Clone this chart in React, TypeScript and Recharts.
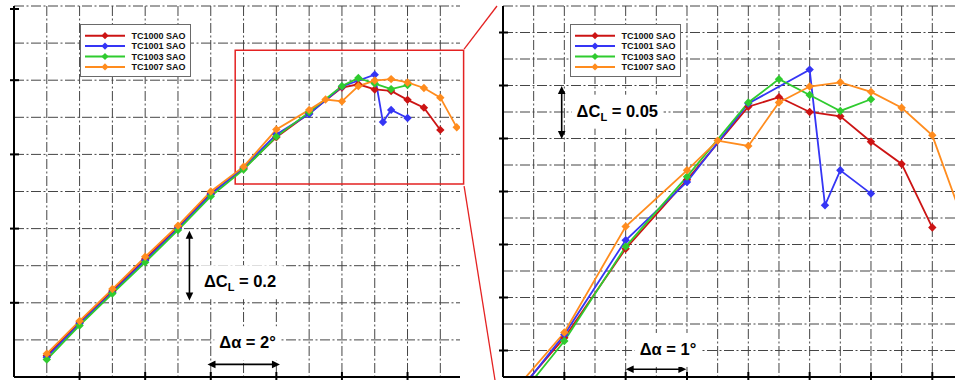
import React from 'react';
import {
  LineChart,
  Line,
  XAxis,
  YAxis,
  CartesianGrid,
  ReferenceArea,
  ReferenceLine,
  ReferenceDot,
  Legend,
} from 'recharts';

// ---------- data ----------
const seriesNames = ['TC1000 SAO', 'TC1001 SAO', 'TC1003 SAO', 'TC1007 SAO'];
const seriesColors = ['#CC1414', '#3535F5', '#2FCB2F', '#FF8C1E'];

const tc1000Alpha = [1, 2, 3, 4, 5, 6, 7, 8, 9, 10, 10.5, 11, 11.5, 12, 12.5, 13];
const tc1000CL = [0.057, 0.148, 0.232, 0.318, 0.404, 0.495, 0.562, 0.646, 0.711, 0.78, 0.789, 0.775, 0.771, 0.747, 0.726, 0.666];

const tc1001Alpha = [1, 2, 3, 4, 5, 6, 7, 8, 9, 10, 11, 11.25, 11.5, 12];
const tc1001CL = [0.053, 0.144, 0.228, 0.314, 0.4, 0.492, 0.565, 0.654, 0.709, 0.783, 0.815, 0.687, 0.72, 0.698];

const tc1003Alpha = [1, 2, 3, 4, 5, 6, 7, 8, 9, 10, 10.5, 11, 11.5, 12];
const tc1003CL = [0.047, 0.139, 0.225, 0.309, 0.396, 0.487, 0.559, 0.648, 0.714, 0.784, 0.806, 0.791, 0.776, 0.787];

const tc1007Alpha = [1, 2, 3, 4, 5, 6, 7, 8, 9, 9.5, 10, 10.5, 11, 11.5, 12, 12.5, 13, 13.5];
const tc1007CL = [0.063, 0.151, 0.237, 0.324, 0.408, 0.5, 0.567, 0.667, 0.72, 0.748, 0.743, 0.784, 0.799, 0.803, 0.794, 0.779, 0.753, 0.673];

// axes / grid (overview panel)
const leftDomainX = [0, 13.6];
const leftDomainY = [0, 1.0];
const leftGridX = [1, 2, 3, 4, 5, 6, 7, 8, 9, 10, 11, 12, 13];
const leftGridY = [0.1, 0.2, 0.3, 0.4, 0.5, 0.6, 0.7, 0.8, 0.9, 1.0];
const leftTicksX = [2, 4, 6, 8, 10, 12];
const leftTicksY = [0.2, 0.4, 0.6, 0.8, 1.0];

// axes / grid (zoomed panel)
const rightDomainX = [6, 13.37];
const rightDomainY = [0.525, 0.875];
const rightGridX = [6.5, 7, 7.5, 8, 8.5, 9, 9.5, 10, 10.5, 11, 11.5, 12, 12.5, 13];
const rightGridY = [0.55, 0.575, 0.6, 0.625, 0.65, 0.675, 0.7, 0.725, 0.75, 0.775, 0.8, 0.825, 0.85, 0.875];
const rightTicksX = [7, 8, 9, 10, 11, 12, 13];
const rightTicksY = [0.55, 0.6, 0.65, 0.7, 0.75, 0.8, 0.85];

// zoom box drawn on overview panel (data coords)
const zoomBox = { x1: 6.745, x2: 13.71, y1: 0.52, y2: 0.881 };

const toPts = (xs: number[], ys: number[]) => xs.map((a, i) => ({ a, cl: ys[i] }));
const seriesData = [
  toPts(tc1000Alpha, tc1000CL),
  toPts(tc1001Alpha, tc1001CL),
  toPts(tc1003Alpha, tc1003CL),
  toPts(tc1007Alpha, tc1007CL),
];

// ---------- layout ----------
const H = 380;
const L_W = 470;
const L_YW = 14;
const L_MR = 10;
const R_LEFT = 482;
const R_W = 473;
const R_YW = 21;
const TOP = 6;
const XH = 3;
const FONT = 'Liberation Sans, Arial, Helvetica, sans-serif';
const GRID_DASH = '10 2.5 2 2.5';
const GRID_COLOR = '#454545';

// ---------- shapes ----------
const Diamond = ({ cx, cy, fill, r = 4 }: any) => {
  if (cx == null || cy == null || isNaN(cx) || isNaN(cy)) return null;
  return (
    <polygon
      points={`${cx},${cy - r} ${cx + r},${cy} ${cx},${cy + r} ${cx - r},${cy}`}
      fill={fill}
    />
  );
};

const CrossTickY = (props: any) => {
  const { x, y } = props;
  return <line x1={x - 4} x2={x + 5} y1={y} y2={y} stroke="#000" strokeWidth={2} />;
};
const CrossTickX = (props: any) => {
  const { x, y } = props;
  return <line x1={x} x2={x} y1={y - 5} y2={y + 4} stroke="#000" strokeWidth={2} />;
};

const ArrowShape = (props: any) => {
  const { x1, y1, x2, y2 } = props;
  if ([x1, y1, x2, y2].some((v) => v == null || isNaN(v))) return null;
  const dx = x2 - x1;
  const dy = y2 - y1;
  const len = Math.sqrt(dx * dx + dy * dy) || 1;
  const ux = dx / len;
  const uy = dy / len;
  const hl = 8;
  const hw = 3.8;
  const head = (tx: number, ty: number, dirx: number, diry: number) => {
    const bx = tx - dirx * hl;
    const by = ty - diry * hl;
    return `${tx},${ty} ${bx - diry * hw},${by + dirx * hw} ${bx + diry * hw},${by - dirx * hw}`;
  };
  return (
    <g>
      <line
        x1={x1 + ux * 4}
        y1={y1 + uy * 4}
        x2={x2 - ux * 4}
        y2={y2 - uy * 4}
        stroke="#000"
        strokeWidth={1.6}
      />
      <polygon points={head(x2, y2, ux, uy)} fill="#000" />
      <polygon points={head(x1, y1, -ux, -uy)} fill="#000" />
    </g>
  );
};

const makeLabel = (main: string, sub: string, rest: string, boxW: number) => (p: any) => {
  const { cx, cy } = p;
  if (cx == null || cy == null) return null;
  return (
    <g>
      <rect x={cx - 5} y={cy - 22} width={boxW} height={34} fill="#fff" />
      <text x={cx} y={cy} fontFamily={FONT} fontWeight="bold" fontSize={16.5} fill="#000">
        {main}
        {sub ? (
          <tspan fontSize={11} dy={4}>
            {sub}
          </tspan>
        ) : null}
        <tspan dy={sub ? -4 : 0}>{rest}</tspan>
      </text>
    </g>
  );
};

const LegendBox = () => (
  <svg width={111} height={54} style={{ display: 'block' }}>
    <rect x={0.5} y={0.5} width={110} height={52} fill="#fff" stroke="#6a6a6a" strokeWidth={1} />
    {seriesNames.map((name, i) => {
      const y = 11.7 + i * 10.4;
      return (
        <g key={name}>
          <line x1={5} x2={45} y1={y} y2={y} stroke={seriesColors[i]} strokeWidth={2} />
          <Diamond cx={25} cy={y} fill={seriesColors[i]} r={3.6} />
          <text x={51.5} y={y + 3.3} fontSize={9} fontWeight="bold" fontFamily={FONT} fill="#111">
            {name}
          </text>
        </g>
      );
    })}
  </svg>
);

const renderLines = () =>
  seriesData.map((d, i) => (
    <Line
      key={seriesNames[i]}
      data={d}
      dataKey="cl"
      name={seriesNames[i]}
      type="linear"
      stroke={seriesColors[i]}
      strokeWidth={1.8}
      dot={(p: any) => <Diamond key={`d-${i}-${p.index}`} cx={p.cx} cy={p.cy} fill={seriesColors[i]} r={4.2} />}
      activeDot={false}
      isAnimationActive={false}
      legendType="diamond"
    />
  ));

// helper to map overview data coords to page pixels (for the connector lines)
const lPx = (x: number) => L_YW + ((x - leftDomainX[0]) / (leftDomainX[1] - leftDomainX[0])) * (L_W - L_YW - L_MR);
const lPy = (y: number) => TOP + ((leftDomainY[1] - y) / (leftDomainY[1] - leftDomainY[0])) * (H - TOP - XH);

export default function App() {
  const rightAxisX = R_LEFT + R_YW;
  return (
    <div style={{ position: 'absolute', left: 0, top: 0, width: 955, height: H, background: '#fff', overflow: 'hidden' }}>
      <div style={{ position: 'absolute', left: 0, top: 0 }}>
        <LineChart width={L_W} height={H} margin={{ top: TOP, right: L_MR, left: 0, bottom: 0 }}>
          <CartesianGrid
            stroke={GRID_COLOR}
            strokeDasharray={GRID_DASH}
            verticalValues={leftGridX}
            horizontalValues={leftGridY}
          />
          <XAxis
            dataKey="a"
            type="number"
            domain={leftDomainX}
            allowDataOverflow
            ticks={leftTicksX}
            height={XH}
            tickSize={0}
            tickMargin={0}
            tickLine={false}
            tick={CrossTickX}
            axisLine={{ stroke: '#000', strokeWidth: 2 }}
          />
          <YAxis
            type="number"
            domain={leftDomainY}
            allowDataOverflow
            ticks={leftTicksY}
            width={L_YW}
            tickSize={0}
            tickMargin={0}
            tickLine={false}
            tick={CrossTickY}
            axisLine={{ stroke: '#000', strokeWidth: 2 }}
          />
          <ReferenceArea
            x1={zoomBox.x1}
            x2={zoomBox.x2}
            y1={zoomBox.y1}
            y2={zoomBox.y2}
            ifOverflow="visible"
            fill="none"
            fillOpacity={0}
            stroke="#E42222"
            strokeWidth={1.5}
          />
          <ReferenceDot x={5.79} y={0.242} ifOverflow="visible" shape={makeLabel('\u0394C', 'L', ' = 0.2', 84)} />
          <ReferenceDot x={6.26} y={0.077} ifOverflow="visible" shape={makeLabel('\u0394\u03b1 = 2\u00b0', '', '', 66)} />
          <ReferenceLine
            segment={[{ x: 5.35, y: 0.206 }, { x: 5.35, y: 0.394 }]}
            ifOverflow="visible"
            shape={ArrowShape}
          />
          <ReferenceLine
            segment={[{ x: 5.9, y: 0.034 }, { x: 8.11, y: 0.034 }]}
            ifOverflow="visible"
            shape={ArrowShape}
          />
          {renderLines()}
          <Legend
            layout="vertical"
            align="center"
            verticalAlign="middle"
            content={LegendBox}
            wrapperStyle={{ left: 80, top: 24, width: 111, height: 54 }}
          />
        </LineChart>
      </div>

      <div style={{ position: 'absolute', left: R_LEFT, top: 0 }}>
        <LineChart width={R_W} height={H} margin={{ top: TOP, right: 0, left: 0, bottom: 0 }}>
          <CartesianGrid
            stroke={GRID_COLOR}
            strokeDasharray={GRID_DASH}
            verticalValues={rightGridX}
            horizontalValues={rightGridY}
          />
          <XAxis
            dataKey="a"
            type="number"
            domain={rightDomainX}
            allowDataOverflow
            ticks={rightTicksX}
            height={XH}
            tickSize={0}
            tickMargin={0}
            tickLine={false}
            tick={CrossTickX}
            axisLine={{ stroke: '#000', strokeWidth: 2 }}
          />
          <YAxis
            type="number"
            domain={rightDomainY}
            allowDataOverflow
            ticks={rightTicksY}
            width={R_YW}
            tickSize={0}
            tickMargin={0}
            tickLine={false}
            tick={CrossTickY}
            axisLine={{ stroke: '#000', strokeWidth: 2 }}
          />
          <ReferenceDot x={7.2} y={0.7706} ifOverflow="visible" shape={makeLabel('\u0394C', 'L', ' = 0.05', 92)} />
          <ReferenceDot x={8.23} y={0.5458} ifOverflow="visible" shape={makeLabel('\u0394\u03b1 = 1\u00b0', '', '', 66)} />
          <ReferenceLine
            segment={[{ x: 6.957, y: 0.7495 }, { x: 6.957, y: 0.7995 }]}
            ifOverflow="visible"
            shape={ArrowShape}
          />
          <ReferenceLine
            segment={[{ x: 8.0, y: 0.5323 }, { x: 8.99, y: 0.5323 }]}
            ifOverflow="visible"
            shape={ArrowShape}
          />
          {renderLines()}
          <Legend
            layout="vertical"
            align="center"
            verticalAlign="middle"
            content={LegendBox}
            wrapperStyle={{ left: 88, top: 24, width: 111, height: 54 }}
          />
        </LineChart>
      </div>

      <svg
        width={955}
        height={H}
        style={{ position: 'absolute', left: 0, top: 0, pointerEvents: 'none' }}
      >
        <line
          x1={lPx(zoomBox.x2) + 0.5}
          y1={lPy(zoomBox.y2) - 1}
          x2={rightAxisX - 6}
          y2={TOP}
          stroke="#E42222"
          strokeWidth={1.3}
        />
        <line
          x1={lPx(zoomBox.x2) + 0.5}
          y1={lPy(zoomBox.y1) + 2}
          x2={rightAxisX - 8}
          y2={H}
          stroke="#E42222"
          strokeWidth={1.3}
        />
      </svg>
    </div>
  );
}
